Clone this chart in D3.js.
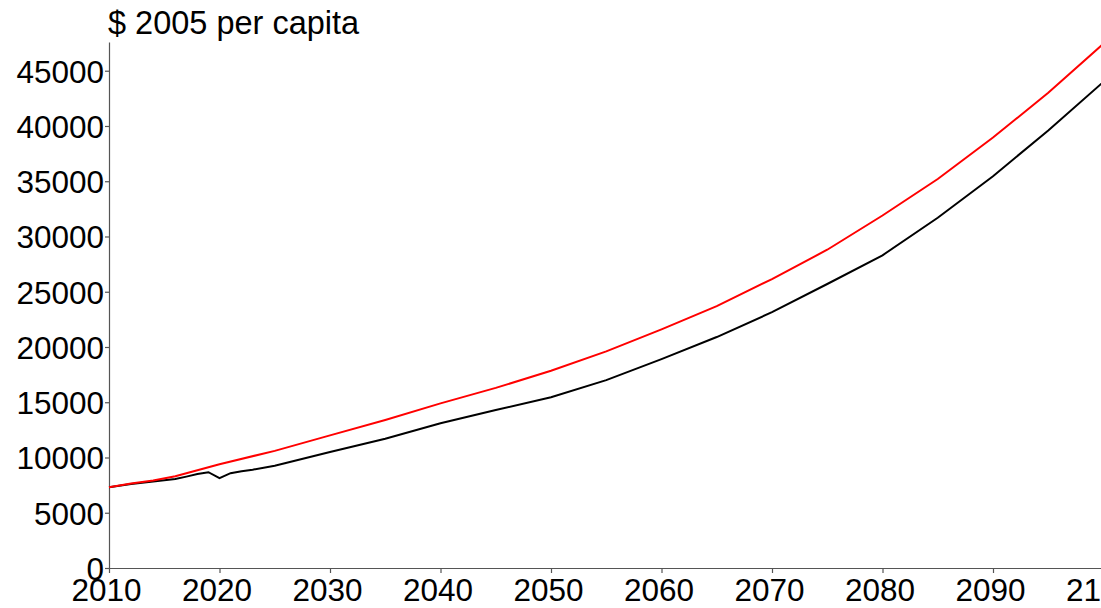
<!DOCTYPE html>
<html>
<head>
<meta charset="utf-8">
<script src="https://cdn.jsdelivr.net/npm/d3@7"></script>
<style>
  html, body { margin: 0; padding: 0; background: #fff; overflow: hidden; }
  svg { display: block; }
  text { font-family: "Liberation Sans", Arial, sans-serif; fill: #000; }
</style>
</head>
<body>
<svg id="chart" width="1101" height="608"></svg>
<script>
// ---- data ----
const redYears   = [2010, 2012, 2014, 2016, 2018, 2020, 2025, 2030, 2035, 2040, 2045, 2050, 2055, 2060, 2065, 2070, 2075, 2080, 2085, 2090, 2095, 2100];
const redValues  = [7310, 7650, 7910, 8300, 8850, 9390, 10600, 12000, 13400, 14900, 16300, 17850, 19600, 21600, 23700, 26150, 28800, 31900, 35200, 38950, 43000, 47450];
const blackYears  = [2010, 2012, 2014, 2016, 2017, 2018, 2019, 2020, 2021, 2022, 2023, 2025, 2030, 2035, 2040, 2045, 2050, 2055, 2060, 2065, 2070, 2075, 2080, 2085, 2090, 2095, 2100];
const blackValues = [7310, 7600, 7820, 8050, 8270, 8500, 8670, 8125, 8580, 8750, 8900, 9250, 10500, 11700, 13100, 14300, 15450, 17000, 18900, 20900, 23150, 25700, 28300, 31700, 35450, 39600, 44000];
const xTicks = [2010, 2020, 2030, 2040, 2050, 2060, 2070, 2080, 2090, 2100];
const yTicks = [0, 5000, 10000, 15000, 20000, 25000, 30000, 35000, 40000, 45000];
const yTitle = "$ 2005 per capita";

// ---- chart ----
const svg = d3.select("#chart");
const x = d3.scaleLinear().domain([2010, 2100]).range([109, 1103.5]);
const y = d3.scaleLinear().domain([0, 47600]).range([568, 42]);
const fs = 31.5;

const xAxis = svg.append("g")
  .attr("transform", "translate(0,568)")
  .call(d3.axisBottom(x).tickValues(xTicks).tickFormat(d3.format("d")).tickSize(5).tickSizeOuter(0));
xAxis.selectAll("text").attr("font-size", fs).attr("dy", null).attr("y", 33).attr("dx", -3);

const yAxis = svg.append("g")
  .attr("transform", "translate(109,0)")
  .call(d3.axisLeft(y).tickValues(yTicks).tickFormat(d3.format("d")).tickSize(4).tickSizeOuter(0));
yAxis.selectAll("text").attr("font-size", fs).attr("x", -5).attr("dy", "0.36em");

svg.selectAll(".domain, .tick line").attr("stroke", "#555").attr("stroke-width", 1.2);
svg.selectAll(".tick text").attr("fill", "#000").style("font-family", '"Liberation Sans", Arial, sans-serif');

svg.append("text").attr("x", 108).attr("y", 34).attr("font-size", 32.5).text(yTitle);

const line = d3.line().x(d => x(d[0])).y(d => y(d[1]));

svg.append("path")
  .datum(blackYears.map((yr, i) => [yr, blackValues[i]]))
  .attr("fill", "none").attr("stroke", "#000").attr("stroke-width", 2)
  .attr("d", line);

svg.append("path")
  .datum(redYears.map((yr, i) => [yr, redValues[i]]))
  .attr("fill", "none").attr("stroke", "#ff0000").attr("stroke-width", 2)
  .attr("d", line);
</script>
</body>
</html>
